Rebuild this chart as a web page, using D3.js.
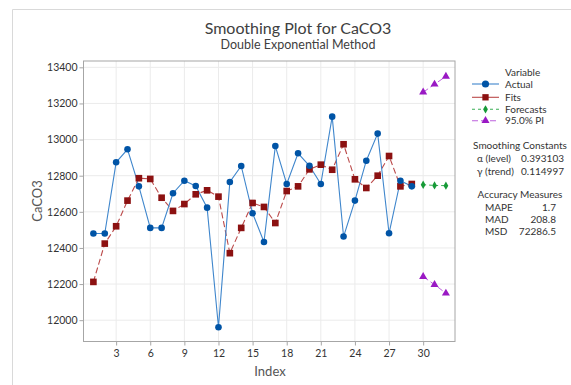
<!DOCTYPE html>
<html><head><meta charset="utf-8">
<script src="https://cdn.jsdelivr.net/npm/d3@7"></script>
<style>body{margin:0;background:#fff}svg{display:block;font-family:Lato,sans-serif}</style>
</head><body><svg id="c" width="571" height="385"></svg>
<script>
const indexes = d3.range(1, 30);
const actual = [12480,12480,12874,12946,12741,12511,12511,12703,12772,12743,12623,11961,12765,12854,12592,12433,12964,12754,12924,12855,12754,13127,12463,12662,12883,13033,12481,12772,12741];
const fits = [12212,12424,12520,12662,12786,12782,12678,12605,12643,12697,12719,12684,12371,12511,12649,12627,12538,12715,12741,12835,12861,12833,12974,12780,12732,12800,12909,12741,12754];
const forecastIdx = [30,31,32];
const forecasts = [12750,12746,12745];
const upperPI = [13262,13306,13350];
const lowerPI = [12241,12197,12149];
const xTicks = [3,6,9,12,15,18,21,24,27,30];
const yTicks = [12000,12200,12400,12600,12800,13000,13200,13400];
const legendLabels = ["Actual","Fits","Forecasts","95.0% PI"];
const smoothNames = ["α (level)","γ (trend)"];
const smoothValues = ["0.393103","0.114997"];
const accNames = ["MAPE","MAD","MSD"];
const accValues = ["1.7","208.8","72286.5"];

const FONT = "Lato, sans-serif";
const svg = d3.select("#c");
const L=83.5, R=455, T=61, B=341.5;
const x = d3.scaleLinear().domain([0.13,32.8]).range([L,R]);
const y = d3.scaleLinear().domain([11882,13435]).range([B,T]);

// outer frame
svg.append("path").attr("d","M12.5,385 V9.5 H571").attr("fill","none").attr("stroke","#d9d9d9");

// titles
svg.append("text").attr("x",298).attr("y",34).attr("text-anchor","middle").attr("font-size",16).attr("fill","#404040").text("Smoothing Plot for CaCO3");
svg.append("text").attr("x",298).attr("y",48.5).attr("text-anchor","middle").attr("font-size",12.5).attr("fill","#404040").text("Double Exponential Method");

// grid
const g = svg.append("g");
g.selectAll(".gx").data(xTicks).join("line").attr("x1",d=>x(d)).attr("x2",d=>x(d)).attr("y1",T).attr("y2",B).attr("stroke","#ebebeb");
g.selectAll(".gy").data(yTicks).join("line").attr("y1",d=>y(d)).attr("y2",d=>y(d)).attr("x1",L).attr("x2",R).attr("stroke","#ebebeb");
svg.append("rect").attr("x",L).attr("y",T).attr("width",R-L).attr("height",B-T).attr("fill","none").attr("stroke","#a6a6a6");

// axes
const xa = svg.append("g").attr("transform",`translate(0,${B})`).call(d3.axisBottom(x).tickValues(xTicks).tickSize(4).tickPadding(4));
const ya = svg.append("g").attr("transform",`translate(${L},0)`).call(d3.axisLeft(y).tickValues(yTicks).tickFormat(d3.format("d")).tickSize(4).tickPadding(2));
[xa,ya].forEach(a=>{a.select(".domain").remove();a.selectAll("line").attr("stroke","#a6a6a6");a.selectAll("text").attr("font-size",10.5).attr("fill","#333").attr("font-family",FONT);});

svg.append("text").attr("x",270).attr("y",376).attr("text-anchor","middle").attr("font-size",13).attr("fill","#555").text("Index");
svg.append("text").attr("transform","translate(42,201) rotate(-90)").attr("text-anchor","middle").attr("font-size",13).attr("fill","#555").text("CaCO3");

const line = d3.line().x(d=>x(d[0])).y(d=>y(d[1]));
const actualPts = indexes.map((d,i)=>[d,actual[i]]);
const fitPts = indexes.map((d,i)=>[d,fits[i]]);
const fcPts = forecastIdx.map((d,i)=>[d,forecasts[i]]);
const upPts = forecastIdx.map((d,i)=>[d,upperPI[i]]);
const loPts = forecastIdx.map((d,i)=>[d,lowerPI[i]]);

const cBlue="#0054a6", cBlueL="#3f86cc", cRed="#8c1111", cRedL="#bb4a4a", cGreen="#179a37", cGreenL="#3aae55", cPur="#9a19c4", cPurL="#bd62dd";

svg.append("path").attr("d",line(fitPts)).attr("fill","none").attr("stroke",cRedL).attr("stroke-width",1.1).attr("stroke-dasharray","6,3");
svg.append("path").attr("d",line(actualPts)).attr("fill","none").attr("stroke",cBlueL).attr("stroke-width",1.1);
svg.append("path").attr("d",line(fcPts)).attr("fill","none").attr("stroke",cGreenL).attr("stroke-width",1).attr("stroke-dasharray","3,3");
[upPts,loPts].forEach(p=>svg.append("path").attr("d",line(p)).attr("fill","none").attr("stroke",cPurL).attr("stroke-width",1).attr("stroke-dasharray","6,3"));

const sq = d3.symbol().type(d3.symbolSquare).size(44);
const ci = d3.symbol().type(d3.symbolCircle).size(34);
const di = d3.symbol().type(d3.symbolDiamond).size(20);
const tr = d3.symbol().type(d3.symbolTriangle).size(28);
svg.selectAll(".f").data(fitPts).join("path").attr("d",sq).attr("transform",d=>`translate(${x(d[0])},${y(d[1])})`).attr("fill",cRed);
svg.selectAll(".a").data(actualPts).join("path").attr("d",ci).attr("transform",d=>`translate(${x(d[0])},${y(d[1])})`).attr("fill",cBlue);
svg.selectAll(".fc").data(fcPts).join("path").attr("d",di).attr("transform",d=>`translate(${x(d[0])},${y(d[1])})`).attr("fill",cGreen);
svg.selectAll(".pi").data(upPts.concat(loPts)).join("path").attr("d",tr).attr("transform",d=>`translate(${x(d[0])},${y(d[1])})`).attr("fill",cPur);

// legend
const lg = svg.append("g").attr("font-size",10).attr("fill","#333");
lg.append("text").attr("x",505).attr("y",75.5).attr("fill","#333").text("Variable");
const legStyles = [
  {c:cBlue,l:cBlueL,dash:null,sym:d3.symbol().type(d3.symbolCircle).size(40)},
  {c:cRed,l:cRedL,dash:null,sym:d3.symbol().type(d3.symbolSquare).size(40)},
  {c:cGreen,l:cGreenL,dash:"3,3",sym:di},
  {c:cPur,l:cPurL,dash:"6,3",sym:tr}];
const ly = [84,97.3,109.3,120.7];
legendLabels.forEach((lab,i)=>{
  const s=legStyles[i];
  lg.append("line").attr("x1",472).attr("x2",499).attr("y1",ly[i]).attr("y2",ly[i]).attr("stroke",s.l).attr("stroke-width",1.1).attr("stroke-dasharray",s.dash);
  lg.append("path").attr("d",s.sym).attr("transform",`translate(485.5,${ly[i]})`).attr("fill",s.c);
  lg.append("text").attr("x",505).attr("y",ly[i]+3.5).attr("fill","#333").text(lab);
});
lg.append("text").attr("x",520).attr("y",149).attr("text-anchor","middle").attr("fill","#333").text("Smoothing Constants");
smoothNames.forEach((n,i)=>{
  lg.append("text").attr("x",477).attr("y",161.8+i*12.7).attr("fill","#333").text(n);
  lg.append("text").attr("x",564).attr("y",161.8+i*12.7).attr("text-anchor","end").attr("fill","#333").text(smoothValues[i]);
});
lg.append("text").attr("x",520).attr("y",197.8).attr("text-anchor","middle").attr("fill","#333").text("Accuracy Measures");
accNames.forEach((n,i)=>{
  lg.append("text").attr("x",485).attr("y",210.5+i*12).attr("fill","#333").text(n);
  lg.append("text").attr("x",556).attr("y",210.5+i*12).attr("text-anchor","end").attr("fill","#333").text(accValues[i]);
});
</script></body></html>
